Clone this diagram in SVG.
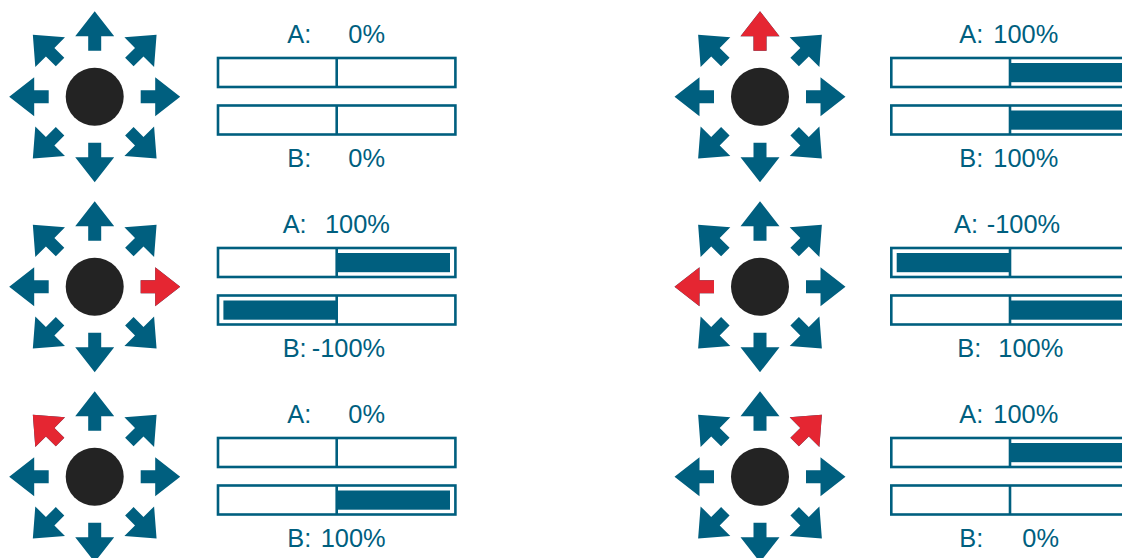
<svg xmlns="http://www.w3.org/2000/svg" xmlns:xlink="http://www.w3.org/1999/xlink" width="1122" height="558" viewBox="0 0 1122 558">
  <style>
    .arr { fill: #005f7f; }
    .hot { fill: #e52632; }
    .knob { fill: #232323; }
    .frame { fill: #ffffff; stroke: #005f7f; stroke-width: 2.6; }
    .mid { stroke: #005f7f; stroke-width: 2.6; }
    .lvl { fill: #005f7f; }
    .lbl { font-family: "Liberation Sans", Arial, sans-serif; font-size: 25.4px; fill: #005f7f; }
  </style>
  <defs>
    <!-- straight arrow pointing up, origin at knob centre -->
    <path id="arS" d="M-6.5,-46 L-6.5,-60.5 L-19.5,-60.5 L0,-85.5 L19.5,-60.5 L6.5,-60.5 L6.5,-46 Z"/>
    <!-- diagonal arrow (rotated into place), slightly larger head -->
    <path id="arD" d="M-6,-49 L-6,-63 L-21,-63 L0,-87.5 L21,-63 L6,-63 L6,-49 Z"/>
    <!-- full eight-way pad -->
    <g id="pad">
      <use xlink:href="#arS" class="arr"/>
      <use xlink:href="#arS" class="arr" transform="rotate(90)"/>
      <use xlink:href="#arS" class="arr" transform="rotate(180)"/>
      <use xlink:href="#arS" class="arr" transform="rotate(270)"/>
      <use xlink:href="#arD" class="arr" transform="rotate(45)"/>
      <use xlink:href="#arD" class="arr" transform="rotate(135)"/>
      <use xlink:href="#arD" class="arr" transform="rotate(225)"/>
      <use xlink:href="#arD" class="arr" transform="rotate(315)"/>
      <circle r="29" class="knob"/>
    </g>
    <!-- a pair of empty bars, origin at outer top-left of bar A -->
    <g id="bars">
      <rect x="1.3" y="1.3" width="237.4" height="29" class="frame"/>
      <line x1="120" y1="1.3" x2="120" y2="30.3" class="mid"/>
      <rect x="1.3" y="48.8" width="237.4" height="29" class="frame"/>
      <line x1="120" y1="48.8" x2="120" y2="77.8" class="mid"/>
    </g>
  </defs>

  <!-- left column -->
  <g id="pad-l1" transform="translate(94.7,96.7)">
    <use xlink:href="#pad"/>
  </g>
  <g id="bars-l1" transform="translate(216.7,56.7)">
    <use xlink:href="#bars"/>
  </g>
  <g id="text-l1" class="lbl">
    <text x="287.3" y="43.3">A:<tspan x="348.3">0%</tspan></text>
    <text x="287.3" y="166.7">B:<tspan x="348.3">0%</tspan></text>
  </g>

  <g id="pad-l2" transform="translate(94.7,286.7)">
    <use xlink:href="#pad"/>
    <use xlink:href="#arS" class="hot" transform="rotate(90)"/>
  </g>
  <g id="bars-l2" transform="translate(216.7,246.7)">
    <use xlink:href="#bars"/>
    <rect x="120" y="6.3" width="113.3" height="19.2" class="lvl"/>
    <rect x="6.7" y="53.8" width="113.3" height="19.2" class="lvl"/>
  </g>
  <g id="text-l2" class="lbl">
    <text x="282.7" y="233.3">A:<tspan x="325">100%</tspan></text>
    <text x="282.7" y="356.7">B:<tspan x="311.7">-100%</tspan></text>
  </g>

  <g id="pad-l3" transform="translate(94.7,476.7)">
    <use xlink:href="#pad"/>
    <use xlink:href="#arD" class="hot" transform="rotate(315)"/>
  </g>
  <g id="bars-l3" transform="translate(216.7,436.7)">
    <use xlink:href="#bars"/>
    <rect x="120" y="53.8" width="113.3" height="19.2" class="lvl"/>
  </g>
  <g id="text-l3" class="lbl">
    <text x="287.3" y="423.3">A:<tspan x="348.3">0%</tspan></text>
    <text x="287.3" y="546.7">B:<tspan x="320.7">100%</tspan></text>
  </g>

  <!-- right column -->
  <g id="pad-r1" transform="translate(760,96.7)">
    <use xlink:href="#pad"/>
    <use xlink:href="#arS" class="hot"/>
  </g>
  <g id="bars-r1" transform="translate(890,56.7)">
    <use xlink:href="#bars"/>
    <rect x="120" y="6.3" width="113.3" height="19.2" class="lvl"/>
    <rect x="120" y="53.8" width="113.3" height="19.2" class="lvl"/>
  </g>
  <g id="text-r1" class="lbl">
    <text x="959.3" y="43.3">A:<tspan x="993.3">100%</tspan></text>
    <text x="959.3" y="166.7">B:<tspan x="993.3">100%</tspan></text>
  </g>

  <g id="pad-r2" transform="translate(760,286.7)">
    <use xlink:href="#pad"/>
    <use xlink:href="#arS" class="hot" transform="rotate(270)"/>
  </g>
  <g id="bars-r2" transform="translate(890,246.7)">
    <use xlink:href="#bars"/>
    <rect x="6.7" y="6.3" width="113.3" height="19.2" class="lvl"/>
    <rect x="120" y="53.8" width="113.3" height="19.2" class="lvl"/>
  </g>
  <g id="text-r2" class="lbl">
    <text x="954" y="233.3">A:<tspan x="986.7">-100%</tspan></text>
    <text x="957.3" y="356.7">B:<tspan x="998.3">100%</tspan></text>
  </g>

  <g id="pad-r3" transform="translate(760,476.7)">
    <use xlink:href="#pad"/>
    <use xlink:href="#arD" class="hot" transform="rotate(45)"/>
  </g>
  <g id="bars-r3" transform="translate(890,436.7)">
    <use xlink:href="#bars"/>
    <rect x="120" y="6.3" width="113.3" height="19.2" class="lvl"/>
  </g>
  <g id="text-r3" class="lbl">
    <text x="959.3" y="423.3">A:<tspan x="993.3">100%</tspan></text>
    <text x="959.3" y="546.7">B:<tspan x="1022.3">0%</tspan></text>
  </g>
</svg>
